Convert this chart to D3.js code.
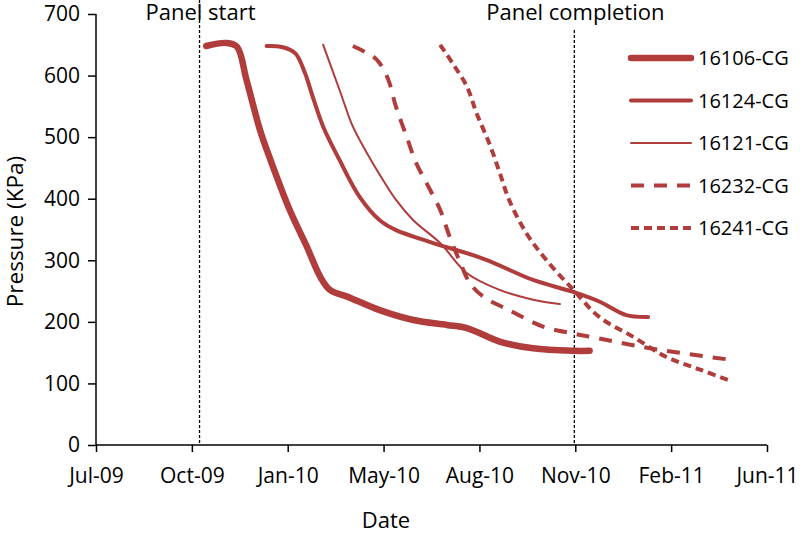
<!DOCTYPE html>
<html>
<head>
<meta charset="utf-8">
<script src="https://cdn.jsdelivr.net/npm/d3@7"></script>
<style>
  html, body { margin: 0; padding: 0; background: #fff; }
  svg { display: block; }
  text { font-family: "Open Sans", "Noto Sans", sans-serif; fill: #000; }
</style>
</head>
<body>
<svg id="chart" width="800" height="533"></svg>
<script>
// ---------- data ----------
const seriesNames = ["16106-CG", "16124-CG", "16121-CG", "16232-CG", "16241-CG"];

const dates16106 = ["2009-10-29","2009-11-19","2009-11-30","2009-12-10","2009-12-24","2010-01-04","2010-01-24","2010-02-11","2010-02-25","2010-03-07","2010-03-25","2010-04-28","2010-06-02","2010-07-07","2010-07-28","2010-08-31","2010-10-05","2010-11-16","2010-12-03"];
const values16106 = [648, 653, 647, 593, 512, 463, 382, 322, 273, 252, 241, 219, 203, 195, 190, 168, 157, 153, 153];

const dates16124 = ["2009-12-31","2010-01-17","2010-01-30","2010-02-09","2010-02-17","2010-02-28","2010-03-17","2010-04-07","2010-04-28","2010-05-15","2010-06-19","2010-08-15","2010-10-05","2010-11-15","2010-12-13","2011-01-10","2011-02-02"];
const values16124 = [648, 646, 636, 604, 566, 517, 463, 403, 365, 349, 330, 302, 268, 249, 233, 211, 208];

const dates16121 = ["2010-02-28","2010-03-17","2010-03-31","2010-04-14","2010-04-28","2010-05-15","2010-06-02","2010-06-30","2010-07-28","2010-08-31","2010-10-05","2010-11-02"];
const values16121 = [650, 577, 517, 476, 439, 398, 365, 328, 279, 252, 236, 229];

const dates16232 = ["2010-03-31","2010-04-21","2010-04-28","2010-05-07","2010-05-15","2010-05-26","2010-06-05","2010-06-16","2010-06-30","2010-07-10","2010-07-20","2010-07-31","2010-08-14","2010-09-10","2010-10-16","2010-11-16","2010-12-13","2011-01-24","2011-03-10","2011-05-01"];
const values16232 = [648, 631, 620, 593, 549, 501, 458, 425, 382, 338, 300, 263, 241, 219, 192, 181, 173, 160, 149, 138];

const dates16241 = ["2010-06-30","2010-07-13","2010-07-28","2010-08-07","2010-08-21","2010-08-31","2010-09-10","2010-09-28","2010-10-19","2010-11-16","2010-12-13","2011-01-17","2011-02-21","2011-03-29","2011-05-01"];
const values16241 = [650, 620, 582, 539, 487, 443, 398, 344, 300, 252, 208, 176, 143, 122, 103];

const xDomain = ["2009-07-06", "2011-06-06"];
const xTickDates = ["2009-07-06","2009-10-14","2010-01-22","2010-05-02","2010-08-10","2010-11-18","2011-02-26","2011-06-06"];
const yTicks = [0, 100, 200, 300, 400, 500, 600, 700];

const markerDates = ["2009-10-22", "2010-11-17"];
const markerLabels = ["Panel start", "Panel completion"];

// ---------- styles ----------
const colour = "#b03c3c";
const styles = [
  { width: 6.5, dash: null, cap: "round" },
  { width: 4, dash: null, cap: "round" },
  { width: 2, dash: null, cap: "round" },
  { width: 4, dash: "13,10", cap: "butt" },
  { width: 4, dash: "8,5", cap: "butt" }
];

// ---------- setup ----------
const parse = d3.utcParse("%Y-%m-%d");
const svg = d3.select("#chart");
const M = { left: 96, right: 767, top: 14, bottom: 445 };

const x = d3.scaleUtc().domain(xDomain.map(parse)).range([M.left, M.right]);
const y = d3.scaleLinear().domain([0, 700]).range([M.bottom, M.top]);

const series = [
  { name: seriesNames[0], dates: dates16106, values: values16106 },
  { name: seriesNames[1], dates: dates16124, values: values16124 },
  { name: seriesNames[2], dates: dates16121, values: values16121 },
  { name: seriesNames[3], dates: dates16232, values: values16232 },
  { name: seriesNames[4], dates: dates16241, values: values16241 }
].map(s => ({ name: s.name, pts: s.dates.map((d, i) => ({ date: parse(d), v: s.values[i] })) }));

// ---------- axes ----------
const xAxis = d3.axisBottom(x)
  .tickValues(xTickDates.map(parse))
  .tickFormat(d3.utcFormat("%b-%y"))
  .tickSize(7).tickPadding(16);
const gx = svg.append("g").attr("transform", `translate(0,${M.bottom})`).call(xAxis);
gx.select(".domain").attr("d", `M${M.left},0H${M.right}`).attr("stroke", "#000").attr("stroke-width", 1.5);
gx.selectAll(".tick line").attr("stroke", "#000").attr("stroke-width", 1.5);
gx.selectAll(".tick text").style("font-size", "21px").style("font-family", "'Open Sans'").attr("fill", "#000");

const yAxis = d3.axisLeft(y).tickValues(yTicks).tickSize(8).tickPadding(8);
const gy = svg.append("g").attr("transform", `translate(${M.left},0)`).call(yAxis);
gy.select(".domain").attr("d", `M0,${M.top}V${M.bottom}`).attr("stroke", "#000").attr("stroke-width", 1.5);
gy.selectAll(".tick line").attr("stroke", "#000").attr("stroke-width", 1.5);
gy.selectAll(".tick text").style("font-size", "21px").style("font-family", "'Open Sans'").attr("fill", "#000");

// axis titles
svg.append("text").attr("x", 386).attr("y", 528).attr("text-anchor", "middle")
  .style("font-size", "22px").text("Date");
svg.append("text").attr("transform", `translate(23,${(M.top + M.bottom) / 2 + 2}) rotate(-90)`)
  .attr("text-anchor", "middle").style("font-size", "22.5px").text("Pressure (KPa)");

// ---------- marker lines ----------
const markerTop = [0, 30];
markerDates.forEach((d, i) => {
  const xp = x(parse(d));
  svg.append("line").attr("x1", xp).attr("x2", xp).attr("y1", markerTop[i]).attr("y2", M.bottom)
    .attr("stroke", "#000").attr("stroke-width", 1.3).attr("stroke-dasharray", "3,2");
  svg.append("text").attr("x", xp + 1).attr("y", 20).attr("text-anchor", "middle")
    .style("font-size", "22px").text(markerLabels[i]);
});

// ---------- lines ----------
const line = d3.line().x(d => x(d.date)).y(d => y(d.v)).curve(d3.curveCatmullRom.alpha(0.5));
series.forEach((s, i) => {
  const st = styles[i];
  svg.append("path").datum(s.pts).attr("d", line)
    .attr("fill", "none").attr("stroke", colour).attr("stroke-width", st.width)
    .attr("stroke-linecap", st.cap).attr("stroke-linejoin", "round")
    .attr("stroke-dasharray", st.dash);
});

// ---------- legend ----------
const legendY = d3.scalePoint().domain(seriesNames).range([58, 228]);
series.forEach((s, i) => {
  const st = styles[i];
  const ly = legendY(s.name);
  svg.append("line").attr("x1", 631).attr("x2", 691).attr("y1", ly).attr("y2", ly)
    .attr("stroke", colour).attr("stroke-width", st.width)
    .attr("stroke-linecap", st.cap).attr("stroke-dasharray", st.dash);
  svg.append("text").attr("x", 698).attr("y", ly).attr("dy", "0.36em")
    .style("font-size", "20px").text(s.name);
});
</script>
</body>
</html>
